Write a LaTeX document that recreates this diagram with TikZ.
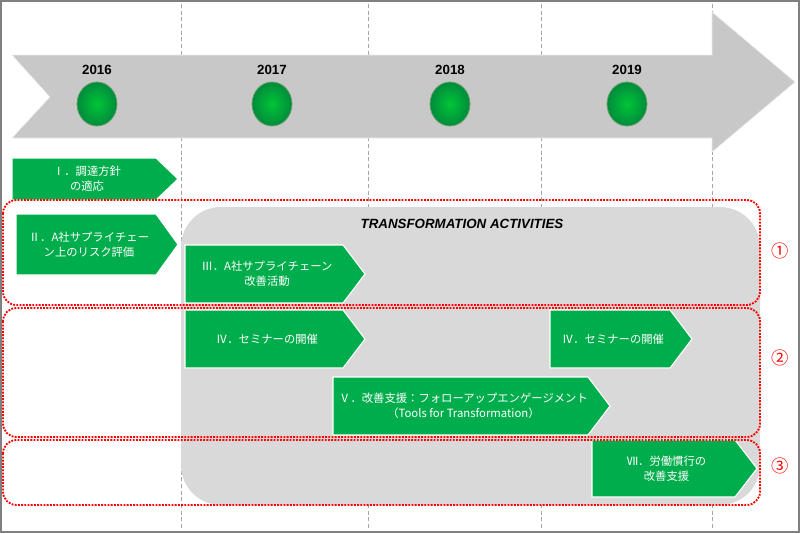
\documentclass[tikz,border=0pt]{standalone}
\usepackage{fontspec}
\setmainfont{Liberation Sans}
\newfontfamily\jp{Noto Sans CJK JP}
\usepackage{tikz}
\usetikzlibrary{positioning, shapes.geometric}
\definecolor{chevgreen}{RGB}{0,173,76}
\definecolor{bandgray}{RGB}{200,200,200}
\definecolor{actgray}{RGB}{217,217,217}
\tikzset{
  chev/.style={fill=chevgreen, draw=white, line width=0.8pt},
  chevtext/.style={text=white, font=\jp\fontsize{8.5}{11}\selectfont, align=center},
  year/.style={font=\bfseries\fontsize{10}{12}\selectfont},
  dot/.style={ellipse, draw=green!40!black!60, line width=0.6pt, inner color=chevgreen!70!green, outer color=chevgreen!80!black, minimum width=30pt, minimum height=33pt},
  group/.style={draw=red, densely dotted, line width=1.4pt, rounded corners=10pt},
  num/.style={text=red, font=\jp\fontsize{13}{14}\selectfont}
}
\begin{document}
\begin{tikzpicture}[x=0.75pt, y=-0.75pt]
\useasboundingbox (0,0) rectangle (800,533);
\draw[gray, line width=1pt] (1,1) rectangle (799,532);
% year grid
\foreach \gx in {181,368,541,712}
  \draw[gray!70, densely dashed, line width=0.5pt] (\gx,4) -- (\gx,530);
% time band
\fill[bandgray, draw=white!85!gray] (12,55) -- (712,55) -- (712,12) -- (795,82) -- (712,152) -- (712,138) -- (12,138) -- (50,97) -- cycle;
\foreach \yr/\cx in {2016/97, 2017/272, 2018/450, 2019/627} {
  \node[year] (y\yr) at (\cx,70) {\yr};
  \node[dot] (d\yr) at (\cx,104) {};
}
% activities panel
\fill[actgray, rounded corners=30pt] (181,207) rectangle (760,505);
\node[font=\bfseries\itshape\fontsize{10}{12}\selectfont] (title) at (462,224) {TRANSFORMATION ACTIVITIES};
% chevrons
\newcommand\chev[6]{%
  \draw[chev] (#2,#3) -- ({#4-22},#3) -- (#4,{(#3+#5)/2}) -- ({#4-22},#5) -- (#2,#5) -- cycle;
  \node[chevtext] (#1) at ({(#2+#4)/2-8},{(#3+#5)/2}) {#6};}
\chev{act1}{12}{158}{178}{200}{Ⅰ．調達方針\\の適応}
\chev{act2}{16}{214}{178}{275}{Ⅱ．A社サプライチェー\\ン上のリスク評価}
\chev{act3}{185}{245}{365}{303}{Ⅲ．A社サプライチェーン\\改善活動}
\chev{act4a}{185}{310}{365}{368}{Ⅳ．セミナーの開催}
\chev{act4b}{550}{310}{692}{368}{Ⅳ．セミナーの開催}
\chev{act5}{333}{377}{610}{435}{Ⅴ．改善支援：フォローアップエンゲージメント\\（Tools for Transformation）}
\chev{act7}{592}{440}{757}{497}{Ⅶ．労働慣行の\\改善支援}
% groups
\draw[group] (3,200) rectangle (760,305);
\draw[group] (3,308) rectangle (760,437);
\draw[group] (3,440) rectangle (760,505);
\node[num] (n1) at (780,251) {①};
\node[num] (n2) at (780,358) {②};
\node[num] (n3) at (780,466) {③};
\end{tikzpicture}
\end{document}
